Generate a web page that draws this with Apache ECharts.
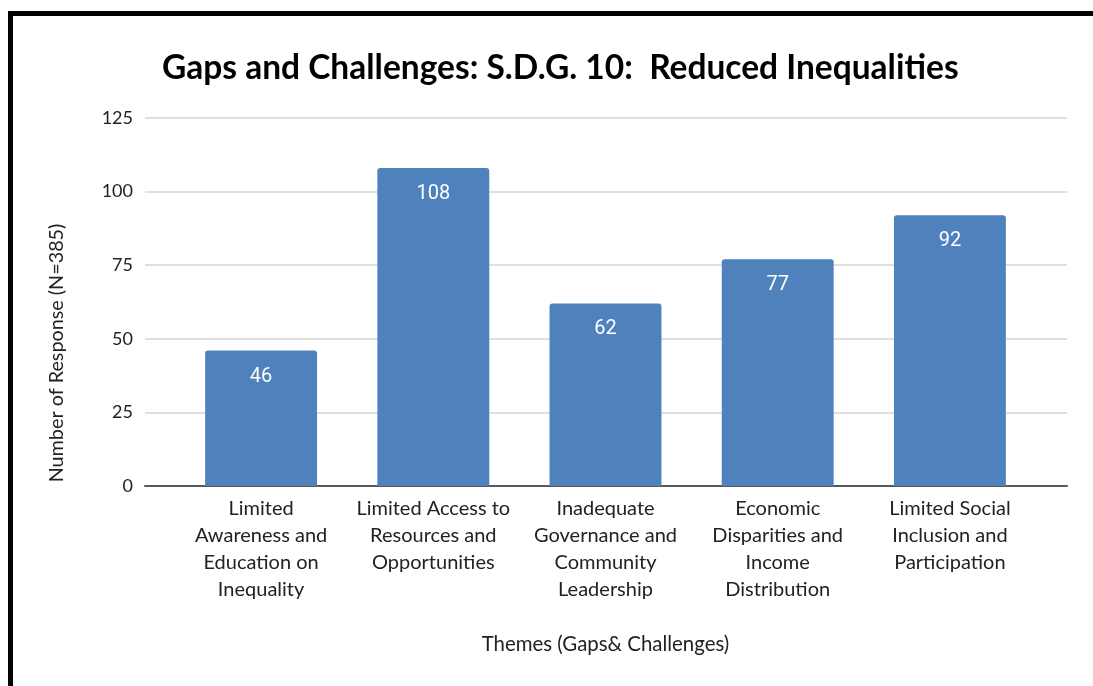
<!DOCTYPE html>
<html>
<head>
<meta charset="utf-8">
<script src="https://cdn.jsdelivr.net/npm/echarts@6/dist/echarts.min.js"></script>
<style>
html,body{margin:0;padding:0;background:#fff;}
#c{width:1093px;height:686px;}
</style>
</head>
<body>
<div id="c"></div>
<script>
var categories = [
  "Limited\nAwareness and\nEducation on\nInequality",
  "Limited Access to\nResources and\nOpportunities",
  "Inadequate\nGovernance and\nCommunity\nLeadership",
  "Economic\nDisparities and\nIncome\nDistribution",
  "Limited Social\nInclusion and\nParticipation"
];
var responses = [46, 108, 62, 77, 92];
var yTicks = [0, 25, 50, 75, 100, 125];

var titleText = "Gaps and Challenges: S.D.G. 10:  Reduced Inequalities";
var yName = "Number of Response (N=385)";
var xName = "Themes (Gaps& Challenges)";

var font = "Lato, 'Open Sans', sans-serif";
var chart = echarts.init(document.getElementById('c'));
chart.setOption({
  backgroundColor: '#ffffff',
  animation: false,
  title: {
    text: titleText,
    left: 157,
    top: 46,
    textStyle: {fontFamily: font, fontSize: 33.5, fontWeight: 'bold', color: '#000'}
  },
  graphic: [
    {type: 'rect', shape: {x: 10.5, y: 13.5, width: 1200, height: 800},
     style: {fill: 'none', stroke: '#000', lineWidth: 5}, z: 100},
    {type: 'text', x: 57, y: 353, rotation: Math.PI / 2,
     style: {text: yName, fontFamily: font, fontSize: 19.8, fill: '#222',
             textAlign: 'center', textVerticalAlign: 'middle'}}
  ],
  grid: [
    {left: 175, right: 57, top: 118, bottom: 200},
    {left: 145, right: 26, top: 118, bottom: 200}
  ],
  xAxis: [
    {type: 'category', gridIndex: 0, data: categories,
     axisLine: {show: false}, axisTick: {show: false},
     axisLabel: {interval: 0, margin: 9, fontFamily: font, fontSize: 20, color: '#222', lineHeight: 27, align: 'center'},
     name: xName, nameLocation: 'middle', nameGap: 148,
     nameTextStyle: {fontFamily: font, fontSize: 20.4, color: '#222'}},
    {type: 'value', gridIndex: 1, min: 0, max: 1, show: true,
     axisLine: {show: true, onZero: false, lineStyle: {color: '#595959', width: 2}},
     axisTick: {show: false}, axisLabel: {show: false}, splitLine: {show: false}}
  ],
  yAxis: [
    {type: 'value', gridIndex: 0, min: yTicks[0], max: yTicks[yTicks.length - 1], interval: 25, show: false,
     splitLine: {show: false}},
    {type: 'value', gridIndex: 1, min: yTicks[0], max: yTicks[yTicks.length - 1], interval: 25,
     axisLine: {show: false}, axisTick: {show: false},
     axisLabel: {margin: 12, fontFamily: font, fontSize: 18, color: '#222'},
     splitLine: {lineStyle: {color: '#d4d4d4', width: 1.5}}}
  ],
  series: [{
    type: 'bar', xAxisIndex: 0, yAxisIndex: 0,
    data: responses,
    barCategoryGap: '35%',
    itemStyle: {color: '#4f81bd', borderRadius: [3, 3, 0, 0]},
    label: {show: true, position: 'insideTop', distance: 16,
            fontFamily: "Roboto, sans-serif", fontSize: 20, color: '#fff'}
  }]
});
</script>
</body>
</html>
